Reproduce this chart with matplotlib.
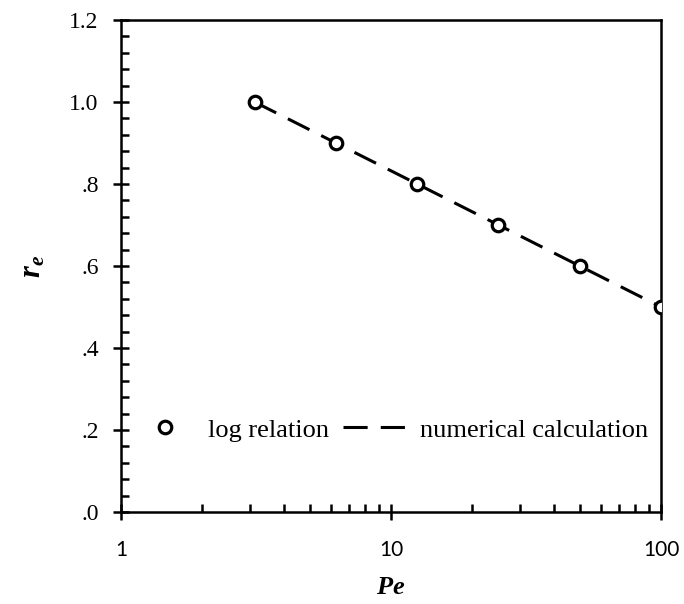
import matplotlib
matplotlib.use("Agg")
import matplotlib.pyplot as plt
from matplotlib.ticker import FixedLocator, FuncFormatter, LogLocator, NullFormatter

plt.rcParams['mathtext.fontset'] = 'custom'
plt.rcParams['mathtext.bf'] = 'Liberation Serif:bold:italic'
plt.rcParams['mathtext.rm'] = 'Liberation Serif'

# donnees
pe = [3.125, 6.25, 12.5, 25, 50, 100]
re_log = [1.0, 0.9, 0.8, 0.7, 0.6, 0.5]
re_num = [1.0, 0.9, 0.8, 0.7, 0.6, 0.5]
y_ticks = [0.0, 0.2, 0.4, 0.6, 0.8, 1.0, 1.2]
x_ticks = [1, 10, 100]

fig = plt.figure(figsize=(6.84, 6.04), dpi=100)
ax = fig.add_axes([121/684, 1-512/604, (661-121)/684, (512-20)/604])

l_num, = ax.plot(pe, re_num, ls=(0, (7.9, 4.3)), color='black', lw=2.2, label='numerical calculation', zorder=2)
l_log, = ax.plot(pe, re_log, 'o', mfc='white', mec='black', mew=2.3, ms=9, label='log relation', zorder=3)

ax.set_xscale('log')
ax.set_xlim(1, 100)
ax.set_ylim(0, 1.2)

ax.xaxis.set_major_locator(FixedLocator(x_ticks))
ax.xaxis.set_minor_locator(LogLocator(base=10, subs=range(2, 10)))
ax.xaxis.set_minor_formatter(NullFormatter())
ax.xaxis.set_major_formatter(FuncFormatter(lambda v, p: '%d' % v))
ax.yaxis.set_major_locator(FixedLocator(y_ticks))
ax.yaxis.set_minor_locator(FixedLocator([i*0.04 for i in range(31)]))

def yfmt(v, p):
    s = '%.1f' % v
    if s.startswith('0'):
        s = s[1:]
    return s
ax.yaxis.set_major_formatter(FuncFormatter(yfmt))

for sp in ax.spines.values():
    sp.set_linewidth(1.8)
ax.tick_params(which='major', direction='inout', length=12, width=1.8)
ax.tick_params(which='minor', direction='in', length=6, width=1.8)
ax.tick_params(axis='x', which='major', pad=14, labelfontfamily='Lato', labelsize=15)
ax.tick_params(axis='y', which='major', pad=10, labelfontfamily='Liberation Serif', labelsize=17)

ax.set_xlabel(r'$\mathbf{Pe}$', fontsize=19, labelpad=10)
ax.set_ylabel(r'$\mathbf{r_e}$', fontsize=22, labelpad=16)

# legende en deux morceaux (longueurs de symbole differentes)
leg1 = ax.legend([l_log], ['log relation'], loc='center left', bbox_to_anchor=(0.057, 0.167),
                 frameon=False, prop={'family': 'Liberation Serif', 'size': 19},
                 handlelength=1.0, handletextpad=1.14, borderpad=0, borderaxespad=0)
ax.add_artist(leg1)
ax.legend([l_num], ['numerical calculation'], loc='center left', bbox_to_anchor=(0.411, 0.167),
          frameon=False, prop={'family': 'Liberation Serif', 'size': 19},
          handlelength=2.42, handletextpad=0.49, borderpad=0, borderaxespad=0)

fig.savefig('out.png', dpi=100)
